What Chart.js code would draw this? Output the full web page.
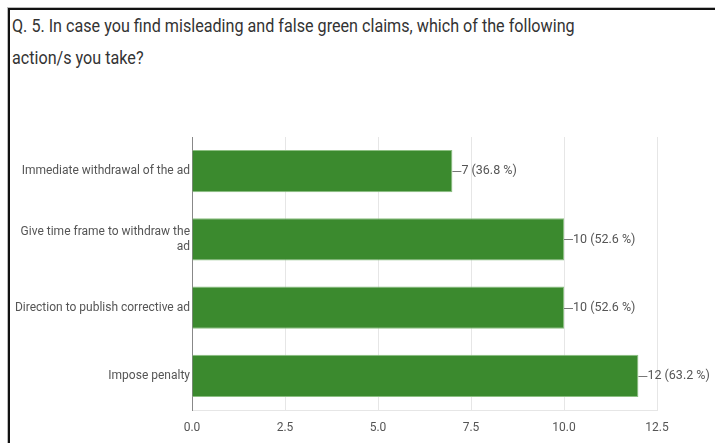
<!DOCTYPE html>
<html>
<head>
<meta charset="utf-8">
<script src="https://cdn.jsdelivr.net/npm/chart.js@4"></script>
<style>
    body { margin: 0; background: #fff; }
    .frame {
        position: absolute; left: 8px; top: 8px; width: 707px; height: 435px;
        border-left: 2px solid #111; border-top: 2px solid #111;
        box-shadow: -1px -1px 0 #bbb;
    }
    .question {
        position: absolute; left: 12px; top: 10px;
        font-family: Roboto, sans-serif; white-space: nowrap;
        font-size: 19px; line-height: 32px; color: #333;
        transform: scaleX(0.85); transform-origin: 0 0;
    }
    #chart { position: absolute; left: 0; top: 0; }
</style>
</head>
<body>
<div class="frame"></div>
<div class="question">Q. 5. In case you find misleading and false green claims, which of the following<br>action/s you take?</div>
<canvas id="chart" width="715" height="443"></canvas>
<script>
const actions = [
    'Immediate withdrawal of the ad',
    ['Give time frame to withdraw the', 'ad'],
    'Direction to publish corrective ad',
    'Impose penalty'
];
const responses = [7, 10, 10, 12];
const percents = [36.8, 52.6, 52.6, 63.2];
const xTicks = [0, 2.5, 5, 7.5, 10, 12.5];

const labelFont = 'Roboto, sans-serif';

// count + share label with a short leader line at the end of each bar
const valueLabels = {
    id: 'valueLabels',
    afterDatasetsDraw(chart) {
        const ctx = chart.ctx;
        const meta = chart.getDatasetMeta(0);
        ctx.save();
        ctx.font = '12.5px ' + labelFont;
        ctx.textBaseline = 'middle';
        meta.data.forEach((bar, i) => {
            ctx.strokeStyle = '#777';
            ctx.lineWidth = 1;
            ctx.beginPath();
            ctx.moveTo(bar.x, Math.round(bar.y) + 0.5);
            ctx.lineTo(bar.x + 9, Math.round(bar.y) + 0.5);
            ctx.stroke();
            ctx.fillStyle = '#555';
            ctx.fillText(responses[i] + ' (' + percents[i].toFixed(1) + ' %)', bar.x + 9, bar.y);
        });
        ctx.restore();
    }
};

new Chart(document.getElementById('chart'), {
    type: 'bar',
    data: {
        labels: actions,
        datasets: [{
            data: responses,
            backgroundColor: '#3b8a2e',
            borderColor: '#8cbf82',
            borderWidth: 1,
            borderSkipped: 'start',
            categoryPercentage: 1,
            barPercentage: 0.62
        }]
    },
    options: {
        indexAxis: 'y',
        responsive: false,
        animation: false,
        layout: { padding: { left: 0, right: 58, top: 137, bottom: 0 } },
        plugins: { legend: { display: false }, tooltip: { enabled: false } },
        scales: {
            x: {
                min: 0, max: 12.5,
                afterBuildTicks: s => { s.ticks = xTicks.map(v => ({ value: v })); },
                afterFit: s => { s.height = 33; },
                ticks: {
                    callback: v => v.toFixed(1),
                    color: '#555',
                    font: { family: labelFont, size: 12 },
                    padding: 11
                },
                grid: { color: '#e6e6e6', drawTicks: false },
                border: { display: true, color: '#e6e6e6' }
            },
            y: {
                afterFit: s => { s.width = 192; },
                ticks: {
                    color: '#555',
                    font: { family: labelFont, size: 12 },
                    padding: 2
                },
                grid: { display: false, drawTicks: false },
                border: { display: true, color: '#888', width: 1 }
            }
        }
    },
    plugins: [valueLabels]
});
</script>
</body>
</html>
